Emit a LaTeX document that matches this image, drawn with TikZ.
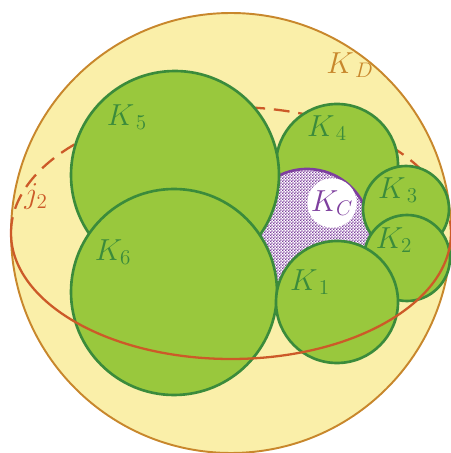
\documentclass[tikz,border=0pt]{standalone}
\usepackage{amsmath,amssymb}
\usepackage{tikz}
\usetikzlibrary{patterns,patterns.meta}
\usepackage{xcolor}

\definecolor{ballyellow}{HTML}{FAEFA9}
\definecolor{balledge}{HTML}{C8872C}
\definecolor{leafgreen}{HTML}{99C83D}
\definecolor{darkgreen}{HTML}{3B8B3B}
\definecolor{curvered}{HTML}{CC5A28}
\definecolor{kcpurple}{HTML}{7E3F9E}

\tikzdeclarepattern{
  name=finechecks,
  bounding box={(0,0) and (1.8pt,1.8pt)},
  tile size={(1.8pt,1.8pt)},
  code={
    \pgfpathrectangle{\pgfpointorigin}{\pgfqpoint{.9pt}{.9pt}}
    \pgfpathrectangle{\pgfqpoint{.9pt}{.9pt}}{\pgfqpoint{.9pt}{.9pt}}
    \pgfusepath{fill}
  }
}

\begin{document}
\begin{tikzpicture}[x=0.02cm, y=0.02cm,
    ball/.style={fill=leafgreen, draw=darkgreen, line width=1.5pt},
    balllabel/.style={text=darkgreen, font=\LARGE},
    curve/.style={draw=curvered, line width=1.3pt}]
    \useasboundingbox (0,0) rectangle (450,453);
    % Outer ball
    \draw[fill=ballyellow, draw=balledge, line width=1.1pt] (231,220) circle (220);
    \node[text=balledge, font=\LARGE] (kd) at (350,388) {$K_{\,D}$};
    % Hidden half of the curve
    \draw[curve, dashed, dash pattern=on 9pt off 5pt] (11,220) arc[start angle=180, end angle=0, x radius=220, y radius=126];
    % Small balls behind the core
    \draw[ball] (337,288) circle (61);
    % Core
    \fill[white] (307,221) circle (63);
    \path[pattern=finechecks, pattern color=kcpurple] (307,221) circle (63);
    \draw[kcpurple, line width=1.5pt] (307,221) circle (63);
    % Balls in front
    \draw[ball] (175,278) circle (104);
    \draw[ball] (174,161) circle (103);
    \draw[ball] (406,244) circle (43);
    \draw[ball] (407,195) circle (43);
    \draw[ball] (337,151) circle (61);
    % Visible half of the curve
    \draw[curve] (11,220) arc[start angle=180, end angle=360, x radius=220, y radius=126];
    % Labels
    \node[balllabel] (k5) at (127,336) {$K_{\,5}$};
    \node[balllabel] (k4) at (327,325) {$K_{\,4}$};
    \node[balllabel] (k3) at (398,263) {$K_{\,3}$};
    \node[balllabel] (k2) at (394,213) {$K_{2}$};
    \node[balllabel] (k1) at (310,171) {$K_{\,1}$};
    \node[balllabel] (k6) at (113,201) {$K_{6}$};
    \node[fill=white, circle, inner sep=0pt, text=kcpurple, font=\LARGE] (kc) at (332,250) {$K_{C}$};
    \node[text=curvered, font=\LARGE] (j2) at (36,256) {$j_{2}$};
\end{tikzpicture}
\end{document}
